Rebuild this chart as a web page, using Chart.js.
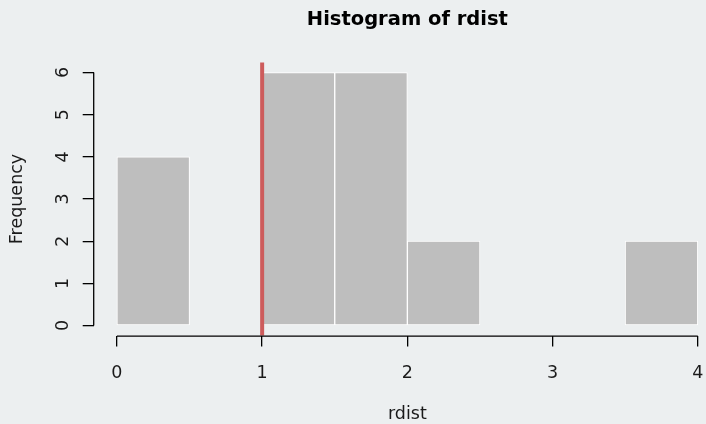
<!DOCTYPE html>
<html>
<head>
<meta charset="utf-8">
<script src="https://cdn.jsdelivr.net/npm/chart.js@4.4.0/dist/chart.umd.min.js"></script>
<style>
  html, body { margin: 0; padding: 0; background: #eceff0; overflow: hidden; }
  #wrap { width: 721px; height: 424px; }
</style>
</head>
<body>
<div id="wrap"><canvas id="hist"></canvas></div>
<script>
// histogram data
const binEdges = [0, 0.5, 1, 1.5, 2, 2.5, 3, 3.5, 4];
const counts = [4, 0, 6, 6, 2, 0, 0, 2];
const xTicks = [0, 1, 2, 3, 4];
const yTicks = [0, 1, 2, 3, 4, 5, 6];
const refLine = 1;
const titleText = "Histogram of rdist";
const xLabel = "rdist";
const yLabel = "Frequency";

const fontFam = "'DejaVu Sans', sans-serif";
const inkColor = "#1a1a1a";
const labelSize = 17.5;

// R-like axis lines, reference line and main title
const rStyle = {
  id: "rStyle",
  afterDatasetsDraw(chart) {
    const { ctx, chartArea: a, scales: { x } } = chart;
    ctx.save();
    const px = x.getPixelForValue(refLine);
    ctx.strokeStyle = "#cd5c5c";
    ctx.lineWidth = 4;
    ctx.beginPath();
    ctx.moveTo(px, a.top);
    ctx.lineTo(px, a.bottom);
    ctx.stroke();
    ctx.restore();
  },
  afterDraw(chart) {
    const { ctx, chartArea: a, scales: { x, y } } = chart;
    ctx.save();
    ctx.strokeStyle = "#000";
    ctx.lineWidth = 1.3;
    ctx.beginPath();
    ctx.moveTo(x.getPixelForValue(xTicks[0]), a.bottom + 0.5);
    ctx.lineTo(x.getPixelForValue(xTicks[xTicks.length - 1]), a.bottom + 0.5);
    ctx.moveTo(a.left, y.getPixelForValue(yTicks[0]));
    ctx.lineTo(a.left, y.getPixelForValue(yTicks[yTicks.length - 1]));
    ctx.stroke();

    ctx.fillStyle = "#000";
    ctx.font = "bold 19.5px " + fontFam;
    ctx.textAlign = "center";
    ctx.textBaseline = "middle";
    ctx.fillText(titleText, x.getPixelForValue(2), 20);
    ctx.restore();
  }
};

const barData = counts.map((c, i) => ({
  x: (binEdges[i] + binEdges[i + 1]) / 2,
  y: c > 0 ? c : null
}));

new Chart(document.getElementById("hist"), {
  type: "bar",
  data: {
    datasets: [{
      data: barData,
      backgroundColor: "#bebebe",
      borderColor: "#ffffff",
      borderWidth: 1,
      borderSkipped: false,
      barPercentage: 1,
      categoryPercentage: 1
    }]
  },
  options: {
    responsive: true,
    maintainAspectRatio: false,
    animation: false,
    layout: { padding: { top: 62.4, left: 0, right: 0, bottom: 0 } },
    plugins: {
      legend: { display: false },
      tooltip: { enabled: false },
      title: { display: false }
    },
    scales: {
      x: {
        type: "linear",
        offset: false,
        min: -0.16,
        max: 4.16,
        afterBuildTicks: (s) => { s.ticks = xTicks.map(v => ({ value: v })); },
        afterFit: (s) => { s.height = 88.4; },
        border: { display: false },
        grid: { offset: false, drawOnChartArea: false, drawTicks: true, tickLength: 11, color: "#000", lineWidth: 1.3 },
        ticks: { padding: 16, color: inkColor, font: { family: fontFam, size: labelSize }, maxRotation: 0 },
        title: { display: true, text: xLabel, color: inkColor, font: { family: fontFam, size: labelSize, lineHeight: 1.1 }, padding: { top: 0, bottom: 0 } }
      },
      y: {
        min: -0.24,
        max: 6.24,
        afterBuildTicks: (s) => { s.ticks = yTicks.map(v => ({ value: v })); },
        afterFit: (s) => { s.width = 93.7; },
        border: { display: false },
        grid: { drawOnChartArea: false, drawTicks: true, tickLength: 11, color: "#000", lineWidth: 1.3 },
        ticks: { padding: 14, color: inkColor, font: { family: fontFam, size: labelSize }, minRotation: 90, maxRotation: 90, crossAlign: "center" },
        title: { display: true, text: yLabel, color: inkColor, font: { family: fontFam, size: labelSize }, padding: { top: 7, bottom: 0 } }
      }
    }
  },
  plugins: [rStyle]
});
</script>
</body>
</html>
